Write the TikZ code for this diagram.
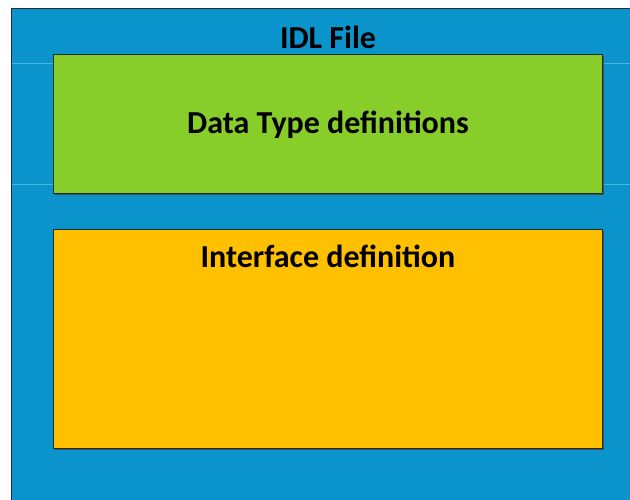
\documentclass[tikz,border=0pt]{standalone}
\usepackage{fontspec}
\setmainfont{Carlito}
\definecolor{bgblue}{HTML}{0B93CC}
\definecolor{lineblue}{HTML}{4FB3DE}
\definecolor{dtgreen}{HTML}{88CE2B}
\definecolor{ifor}{HTML}{FFC000}
\definecolor{edge}{HTML}{1E2E36}
\begin{document}
\begin{tikzpicture}[x=1pt,y=-1pt,
  lbl/.style={font=\bfseries\fontsize{32}{38}\selectfont, text=black, anchor=base, inner sep=0pt},
  panel/.style={draw=edge, line width=1pt}]
\useasboundingbox (0,0) rectangle (630,500);
\fill[white] (0,0) rectangle (630,500);
% outer blue file box
\filldraw[panel, fill=bgblue] (11.5,8.5) rectangle (640,510);
\draw[lineblue, line width=0.8pt] (11.5,63) -- (630,63);
\draw[lineblue, line width=0.8pt] (11.5,184) -- (630,184);
% shadows
\fill[black!70] (55,56) rectangle (604,195);
\fill[black!70] (55,231) rectangle (604,450);
% green box
\filldraw[panel, fill=dtgreen] (53.5,54.5) rectangle (602.5,193.5);
% orange box
\filldraw[panel, fill=ifor] (53.5,229.5) rectangle (602.5,448.5);
\node[lbl] (title) at (328,48.5) {IDL File};
\node[lbl] (dt) at (328,133.5) {Data Type definitions};
\node[lbl] (ifd) at (328,268) {Interface definition};
\end{tikzpicture}
\end{document}
